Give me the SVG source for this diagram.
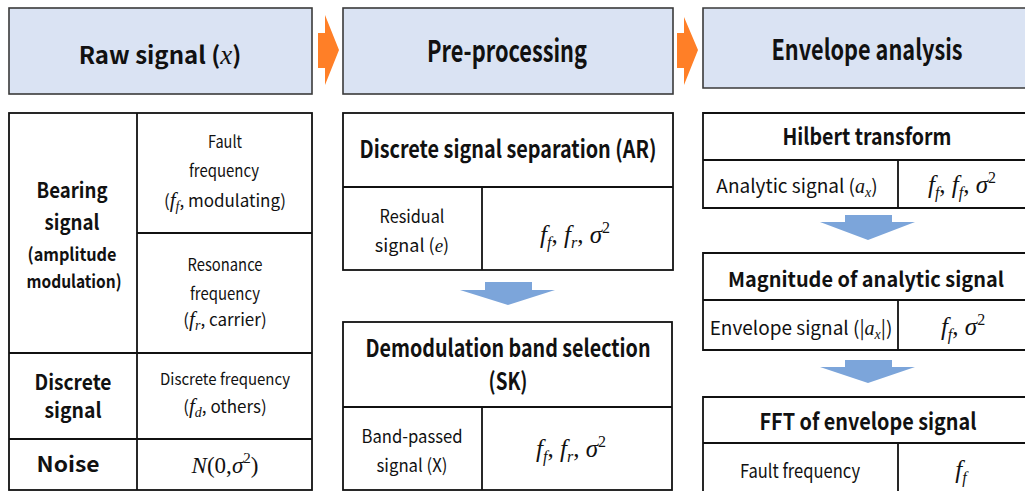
<svg xmlns="http://www.w3.org/2000/svg" width="1025" height="491" viewBox="0 0 1025 491">
<style>
.hdr{fill:#DAE3F3;stroke:#3a3a3a;stroke-width:1.6}
.hfill{fill:#DAE3F3}
.hedge{fill:none;stroke:#3a3a3a;stroke-width:1.6}
.cell{fill:#fff;stroke:#111;stroke-width:1.8}
.ln{stroke:#111;stroke-width:1.8;fill:none}
.t{font-family:"Noto Sans CJK KR","Noto Sans",sans-serif;fill:#111}
.b{font-weight:bold}
.c{text-anchor:middle}
.m{font-family:"Liberation Serif",serif;font-style:italic;fill:#111}
.up{font-style:normal}
.orange{fill:#FF7F27}
.blue{fill:#7CA5DA}
</style>
<rect width="1025" height="491" fill="#fff"/>

<g id="header-raw">
<rect class="hdr" x="9" y="8" width="303" height="86"/>
<text class="t b c" x="160" y="64" font-size="24">Raw signal (<tspan class="m" font-size="27" font-weight="normal">x</tspan>)</text>
</g>
<g id="header-pre">
<rect class="hdr" x="343" y="8" width="330" height="86"/>
<text class="t b c" x="507" y="62" font-size="30" textLength="160" lengthAdjust="spacingAndGlyphs">Pre-processing</text>
</g>
<g id="header-env">
<rect class="hfill" x="703" y="8" width="322" height="80"/>
<path class="hedge" d="M1025,8 H703 V88 H1025"/>
<text class="t b c" x="867" y="60" font-size="28" textLength="191" lengthAdjust="spacingAndGlyphs">Envelope analysis</text>
</g>

<g id="raw-table">
<rect class="cell" x="9" y="113" width="303" height="377"/>
<line class="ln" x1="137" y1="113" x2="137" y2="490"/>
<line class="ln" x1="137" y1="233" x2="312" y2="233"/>
<line class="ln" x1="9" y1="353" x2="312" y2="353"/>
<line class="ln" x1="9" y1="439" x2="312" y2="439"/>
<text class="t b c" x="72" y="198" font-size="21" textLength="71" lengthAdjust="spacingAndGlyphs">Bearing</text>
<text class="t b c" x="72" y="230" font-size="21" textLength="55" lengthAdjust="spacingAndGlyphs">signal</text>
<text class="t b c" x="72" y="261" font-size="18" textLength="89" lengthAdjust="spacingAndGlyphs">(amplitude</text>
<text class="t b c" x="74" y="288" font-size="18" textLength="95" lengthAdjust="spacingAndGlyphs">modulation)</text>
<text class="t c" x="225" y="148" font-size="17" textLength="34" lengthAdjust="spacingAndGlyphs">Fault</text>
<text class="t c" x="224" y="177" font-size="17" textLength="70" lengthAdjust="spacingAndGlyphs">frequency</text>
<text class="t c" x="225" y="207" font-size="17">(<tspan class="m" font-size="21">f</tspan><tspan class="m" font-size="14" dy="4">f</tspan><tspan dy="-4">, modulating)</tspan></text>
<text class="t c" x="225" y="271" font-size="17" textLength="75" lengthAdjust="spacingAndGlyphs">Resonance</text>
<text class="t c" x="225" y="300" font-size="17" textLength="70" lengthAdjust="spacingAndGlyphs">frequency</text>
<text class="t c" x="225" y="326" font-size="17">(<tspan class="m" font-size="21">f</tspan><tspan class="m" font-size="14" dy="4">r</tspan><tspan dy="-4">, carrier)</tspan></text>
<text class="t b c" x="73" y="390" font-size="21" textLength="77" lengthAdjust="spacingAndGlyphs">Discrete</text>
<text class="t b c" x="73" y="418" font-size="21" textLength="57" lengthAdjust="spacingAndGlyphs">signal</text>
<text class="t c" x="225" y="385" font-size="16" textLength="130" lengthAdjust="spacingAndGlyphs">Discrete frequency</text>
<text class="t c" x="225" y="413" font-size="17">(<tspan class="m" font-size="21">f</tspan><tspan class="m" font-size="14" dy="4">d</tspan><tspan dy="-4">, others)</tspan></text>
<text class="t b c" x="68" y="472" font-size="21" textLength="63" lengthAdjust="spacingAndGlyphs">Noise</text>
<text class="m c" x="225" y="473" font-size="23">N<tspan class="up">(0,</tspan>σ<tspan class="up" font-size="15" dy="-10">2</tspan><tspan class="up" dy="10">)</tspan></text>
</g>

<g id="ar-box">
<rect class="cell" x="343" y="113" width="330" height="157"/>
<line class="ln" x1="343" y1="187" x2="673" y2="187"/>
<line class="ln" x1="482" y1="187" x2="482" y2="270"/>
<text class="t b c" x="508" y="158" font-size="24" textLength="297" lengthAdjust="spacingAndGlyphs">Discrete signal separation (AR)</text>
<text class="t c" x="412" y="223" font-size="18" textLength="65" lengthAdjust="spacingAndGlyphs">Residual</text>
<text class="t c" x="412" y="252" font-size="18">signal (<tspan class="m" font-size="19">e</tspan>)</text>
<text class="m c" x="575" y="243" font-size="25">f<tspan font-size="16" dy="5">f</tspan><tspan class="up" dy="-5">, </tspan>f<tspan font-size="16" dy="5">r</tspan><tspan class="up" dy="-5">, </tspan>σ<tspan class="up" font-size="16" dy="-10">2</tspan></text>
</g>

<g id="sk-box">
<rect class="cell" x="343" y="322" width="329" height="168"/>
<line class="ln" x1="343" y1="407" x2="672" y2="407"/>
<line class="ln" x1="482" y1="407" x2="482" y2="490"/>
<text class="t b c" x="508" y="357" font-size="24" textLength="285" lengthAdjust="spacingAndGlyphs">Demodulation band selection</text>
<text class="t b c" x="508" y="390" font-size="24" textLength="39" lengthAdjust="spacingAndGlyphs">(SK)</text>
<text class="t c" x="412" y="443" font-size="18" textLength="101" lengthAdjust="spacingAndGlyphs">Band-passed</text>
<text class="t c" x="412" y="472" font-size="18" textLength="71" lengthAdjust="spacingAndGlyphs">signal (X)</text>
<text class="m c" x="571" y="457" font-size="25">f<tspan font-size="16" dy="5">f</tspan><tspan class="up" dy="-5">, </tspan>f<tspan font-size="16" dy="5">r</tspan><tspan class="up" dy="-5">, </tspan>σ<tspan class="up" font-size="16" dy="-10">2</tspan></text>
</g>

<g id="hilbert-box">
<rect fill="#fff" x="703" y="113" width="322" height="95"/>
<path class="ln" d="M1025,113 H703 V208 H1025 M703,160 H1025 M898,160 V208"/>
<text class="t b c" x="867" y="145" font-size="23" textLength="169" lengthAdjust="spacingAndGlyphs">Hilbert transform</text>
<text class="t c" x="797" y="193" font-size="19">Analytic signal (<tspan class="m" font-size="20">a</tspan><tspan class="m" font-size="14" dy="4">x</tspan><tspan dy="-4">)</tspan></text>
<text class="m c" x="962" y="193" font-size="25">f<tspan font-size="16" dy="5">f</tspan><tspan class="up" dy="-5">, </tspan>f<tspan font-size="16" dy="5">f</tspan><tspan class="up" dy="-5">, </tspan>σ<tspan class="up" font-size="16" dy="-10">2</tspan></text>
</g>

<g id="magnitude-box">
<rect fill="#fff" x="703" y="253" width="322" height="97"/>
<path class="ln" d="M1025,253 H703 V350 H1025 M703,300 H1025 M898,300 V350"/>
<text class="t b c" x="866" y="287" font-size="20.5" textLength="276" lengthAdjust="spacingAndGlyphs">Magnitude of analytic signal</text>
<text class="t c" x="801" y="335" font-size="19">Envelope signal (|<tspan class="m" font-size="20">a</tspan><tspan class="m" font-size="14" dy="4">x</tspan><tspan dy="-4">|)</tspan></text>
<text class="m c" x="963" y="335" font-size="25">f<tspan font-size="16" dy="5">f</tspan><tspan class="up" dy="-5">, </tspan>σ<tspan class="up" font-size="16" dy="-10">2</tspan></text>
</g>

<g id="fft-box">
<rect fill="#fff" x="703" y="397" width="322" height="94"/>
<path class="ln" d="M1025,397 H703 V491 M703,443 H1025 M898,443 V491"/>
<text class="t b c" x="868" y="430" font-size="23" textLength="217" lengthAdjust="spacingAndGlyphs">FFT of envelope signal</text>
<text class="t c" x="800" y="478" font-size="19" textLength="120" lengthAdjust="spacingAndGlyphs">Fault frequency</text>
<text class="m c" x="961" y="478" font-size="25">f<tspan font-size="16" dy="5">f</tspan></text>
</g>

<g id="connectors">
<polygon class="orange" points="318,33 325,33 325,15 339,50 325,85 325,68 318,68"/>
<polygon class="orange" points="677,33 684,33 684,17 698,50 684,85 684,68 677,68"/>
<polygon class="blue" points="485,282 532,282 532,290 555,290 508,305 460,290 485,290"/>
<polygon class="blue" points="845,215 892,215 892,222 915,222 868,240 820,222 845,222"/>
<polygon class="blue" points="845,360 892,360 892,367 915,367 868,383 820,367 845,367"/>
</g>
</svg>
